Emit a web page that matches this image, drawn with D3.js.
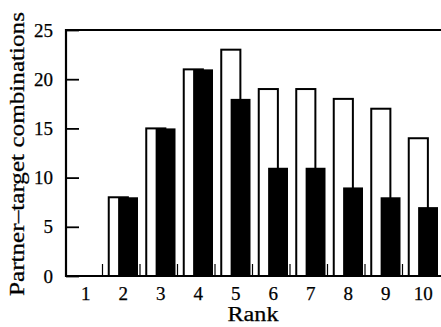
<!DOCTYPE html>
<html>
<head>
<meta charset="utf-8">
<script src="https://cdn.jsdelivr.net/npm/d3@7"></script>
<style>
  html, body { margin: 0; padding: 0; background: #fff; }
  svg { display: block; }
  text { font-family: "Liberation Serif", "DejaVu Serif", serif; fill: #000; stroke: #000; stroke-width: 0.25px; }
</style>
</head>
<body>
<svg id="chart" width="441" height="327"></svg>
<script>
// ranks along the x axis
const ranks = ['1', '2', '3', '4', '5', '6', '7', '8', '9', '10'];
// open (outlined) bars
const openValues = [0, 8, 15, 21, 23, 19, 19, 18, 17, 14];
// filled (black) bars
const filledValues = [0, 8, 15, 21, 18, 11, 11, 9, 8, 7];
const yTicks = [0, 5, 10, 15, 20, 25];

const width = 441, height = 327;
const margin = { top: 30, right: 0, bottom: 51, left: 66 };

const svg = d3.select('#chart');

const x = d3.scaleBand()
  .domain(ranks)
  .range([margin.left, width])
  .padding(0);

const y = d3.scaleLinear()
  .domain([0, 25])
  .range([height - margin.bottom, margin.top]);

const bw = x.bandwidth();

// open bars first, filled ones sit on top
svg.append('g')
  .selectAll('rect')
  .data(ranks)
  .join('rect')
  .attr('x', (d) => x(d) + bw * 0.14)
  .attr('y', (d, i) => y(openValues[i]))
  .attr('width', bw * 0.51)
  .attr('height', (d, i) => y(0) - y(openValues[i]))
  .attr('fill', '#fff')
  .attr('stroke', '#000')
  .attr('stroke-width', 2);

svg.append('g')
  .selectAll('rect')
  .data(ranks)
  .join('rect')
  .attr('x', (d) => x(d) + bw * 0.39)
  .attr('y', (d, i) => y(filledValues[i]))
  .attr('width', bw * 0.53)
  .attr('height', (d, i) => y(0) - y(filledValues[i]))
  .attr('fill', '#000');

// small separator ticks between ranks on the baseline
svg.append('g')
  .selectAll('line')
  .data(ranks.slice(1))
  .join('line')
  .attr('x1', (d) => x(d) - 1)
  .attr('x2', (d) => x(d) - 1)
  .attr('y1', y(0))
  .attr('y2', y(0) - 12)
  .attr('stroke', '#000')
  .attr('stroke-width', 1.2);

// frame: top line, baseline, left axis
svg.append('line')
  .attr('x1', margin.left).attr('x2', width)
  .attr('y1', y(25)).attr('y2', y(25))
  .attr('stroke', '#000').attr('stroke-width', 1.8);

svg.append('line')
  .attr('x1', margin.left).attr('x2', width)
  .attr('y1', y(0)).attr('y2', y(0))
  .attr('stroke', '#000').attr('stroke-width', 2);

const yAxis = d3.axisRight(y)
  .tickValues(yTicks)
  .tickSize(13)
  .tickFormat('');

const gy = svg.append('g')
  .attr('transform', `translate(${margin.left},0)`)
  .call(yAxis);
gy.select('.domain').remove();
gy.selectAll('.tick line').attr('stroke', '#000').attr('stroke-width', 1.8);

svg.append('line')
  .attr('x1', margin.left).attr('x2', margin.left)
  .attr('y1', y(25) - 1).attr('y2', y(0) + 1)
  .attr('stroke', '#000').attr('stroke-width', 2.2);

// y tick labels
svg.append('g')
  .selectAll('text')
  .data(yTicks)
  .join('text')
  .attr('x', margin.left - 13)
  .attr('y', (d) => y(d))
  .attr('dy', '0.35em')
  .attr('text-anchor', 'end')
  .style('font-size', '19px')
  .text((d) => d);

// x tick labels
svg.append('g')
  .selectAll('text')
  .data(ranks)
  .join('text')
  .attr('x', (d) => x(d) + bw / 2 + 1)
  .attr('y', 300)
  .attr('text-anchor', 'middle')
  .style('font-size', '19px')
  .text((d) => d);

svg.append('text')
  .attr('x', 253)
  .attr('y', 321)
  .attr('text-anchor', 'middle')
  .style('font-size', '20px')
  .attr('textLength', 51)
  .attr('lengthAdjust', 'spacingAndGlyphs')
  .text('Rank');

svg.append('text')
  .attr('transform', 'translate(24,154) rotate(-90)')
  .attr('text-anchor', 'middle')
  .style('font-size', '20px')
  .attr('textLength', 284)
  .attr('lengthAdjust', 'spacingAndGlyphs')
  .text('Partner\u2013target combinations');
</script>
</body>
</html>
